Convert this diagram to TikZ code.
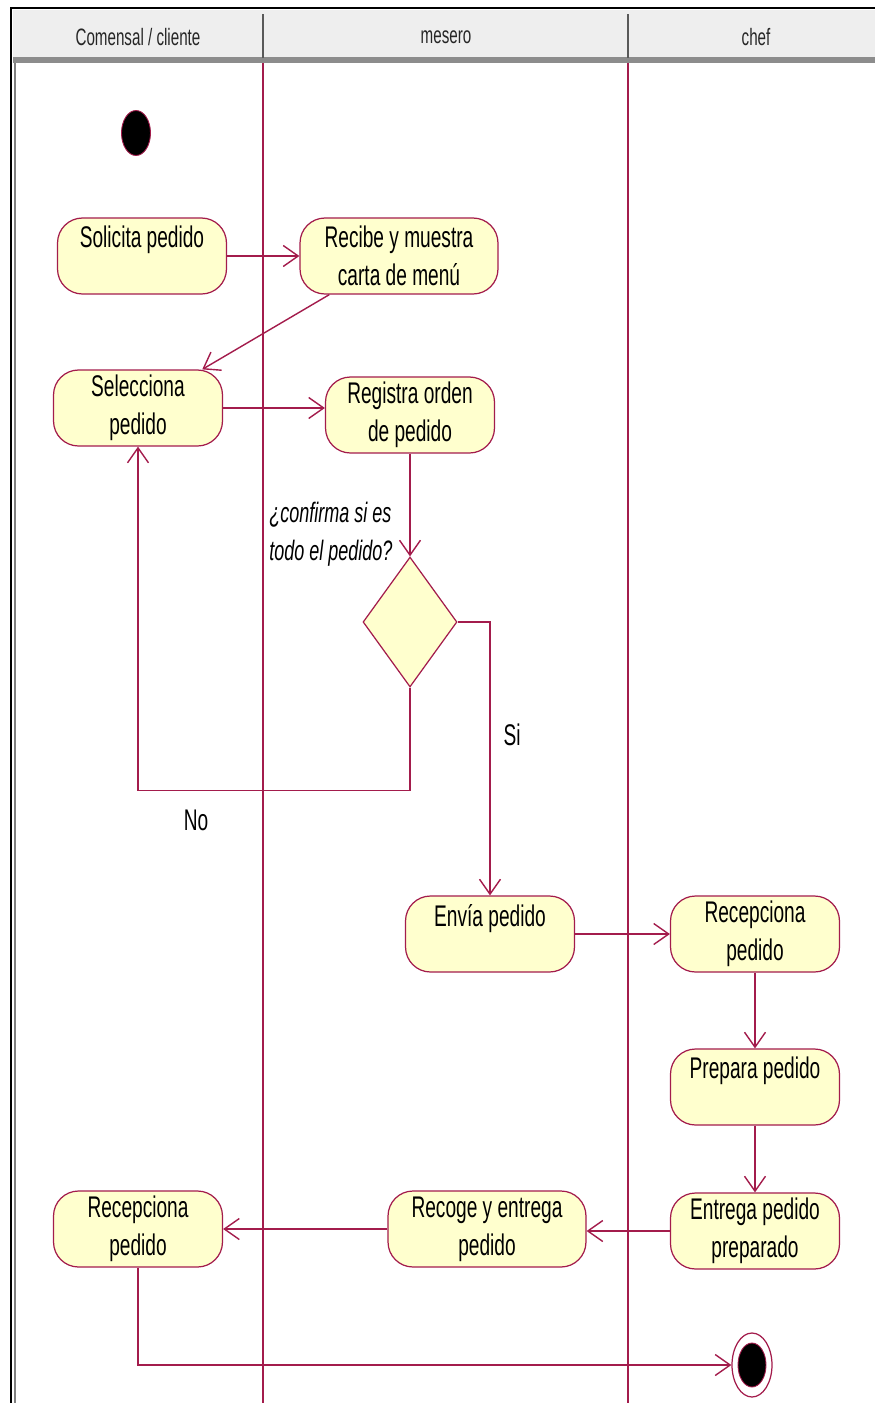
\documentclass[tikz,border=0pt]{standalone}
\usepackage{fontspec}
\setmainfont{Liberation Sans}[FakeStretch=0.64]
\usetikzlibrary{shapes.geometric, arrows.meta, positioning}

\definecolor{umlred}{RGB}{163,28,76}
\definecolor{umlfill}{RGB}{255,255,206}
\definecolor{headfill}{RGB}{238,238,238}

\begin{document}
\begin{tikzpicture}[
    x=0.02cm, y=-0.02cm,
    font=\fontsize{17}{21.6}\selectfont,
    act/.style={rectangle, rounded corners=0.5cm, minimum width=3.38cm, minimum height=1.52cm,
                inner sep=0pt, align=center, draw=umlred, fill=umlfill, line width=0.7pt},
    wideact/.style={act, minimum width=3.96cm},
    decision/.style={diamond, minimum width=1.88cm, minimum height=2.6cm, inner sep=0pt,
                draw=umlred, fill=umlfill, line width=0.7pt},
    initial/.style={ellipse, minimum width=0.58cm, minimum height=0.9cm, inner sep=0pt,
                fill=black, draw=umlred, line width=0.5pt},
    final/.style={ellipse, minimum width=0.8cm, minimum height=1.28cm, inner sep=0pt,
                draw=umlred, fill=white, line width=0.7pt},
    lane/.style={font=\fontsize{13.5}{16}\selectfont, text=black!85},
    lbl/.style={inner sep=0pt},
    flow/.style={draw=umlred, line width=0.8pt, -{Straight Barb[length=0.3cm, width=0.42cm]}}
]
\useasboundingbox (0,0) rectangle (875,1403);

%% ── Swimlane frame ───────────────────────────────────────────────────────────
\fill[headfill] (13,10) rectangle (875,58);
\fill[black!45] (13,57) rectangle (875,63);
\draw[black!65, line width=1pt] (263,14) -- (263,58);
\draw[black!65, line width=1pt] (628,14) -- (628,58);
\draw[black, line width=1.2pt] (11,1403) -- (11,8) -- (875,8);
\draw[black!50, line width=0.8pt] (15,63) -- (15,1403);
\draw[umlred, line width=0.6pt] (263,63) -- (263,1403);
\draw[umlred, line width=0.6pt] (628,63) -- (628,1403);

\node[lane] (h_cli) at (138,37) {Comensal / cliente};
\node[lane] (h_mes) at (446,37) {mesero};
\node[lane] (h_chef) at (756,37) {chef};

%% ── Comensal / cliente ───────────────────────────────────────────────────────
\node[initial] (start)   at (136,133)  {};
\node[act]     (solic)   at (142,256)  {Solicita pedido\\~};
\node[act]     (selecc)  at (138,408)  {Selecciona\\pedido};
\node[act]     (recep2)  at (138,1229) {Recepciona\\pedido};

%% ── Mesero ───────────────────────────────────────────────────────────────────
\node[wideact] (recibe)  at (399,256)  {Recibe y muestra\\carta de menú};
\node[act]     (regis)   at (410,415)  {Registra orden\\de pedido};
\node[decision](dec)     at (410,622)  {};
\node[act]     (envia)   at (490,934)  {Envía pedido\\~};
\node[wideact] (recoge)  at (487,1229) {Recoge y entrega\\pedido};

%% ── Chef ─────────────────────────────────────────────────────────────────────
\node[act]     (recep1)  at (755,934)  {Recepciona\\pedido};
\node[act]     (prepara) at (755,1087) {Prepara pedido\\~};
\node[act]     (entrega) at (755,1231) {Entrega pedido\\preparado};
\node[final]   (fin)     at (752,1365) {};
\node[initial, minimum width=0.56cm, minimum height=0.88cm] (findot) at (fin) {};

%% ── Guard and branch labels ──────────────────────────────────────────────────
\node[lbl, anchor=north west, align=left, font=\fontsize{16}{21.6}\selectfont\itshape]
     (guard) at (269,502) {¿confirma si es\\todo el pedido?};
\node[lbl] (si) at (512,735) {Si};
\node[lbl] (no) at (196,820) {No};

%% ── Flows ────────────────────────────────────────────────────────────────────
\draw[flow] (solic) -- (recibe);
\draw[flow] (recibe.209) -- (selecc.31);
\draw[flow] (selecc.east) -- (regis.west |- selecc.east);
\draw[flow] (regis) -- (dec);
\draw[flow] (dec.south) -- ++(0,103) -| (selecc.south);
\draw[flow] (dec.east) -| (envia.north);
\draw[flow] (envia) -- (recep1);
\draw[flow] (recep1) -- (prepara);
\draw[flow] (prepara) -- (entrega);
\draw[flow] (entrega.west) -- (recoge.east |- entrega.west);
\draw[flow] (recoge) -- (recep2);
\draw[flow] (recep2.south) |- (fin.west);

\end{tikzpicture}
\end{document}
